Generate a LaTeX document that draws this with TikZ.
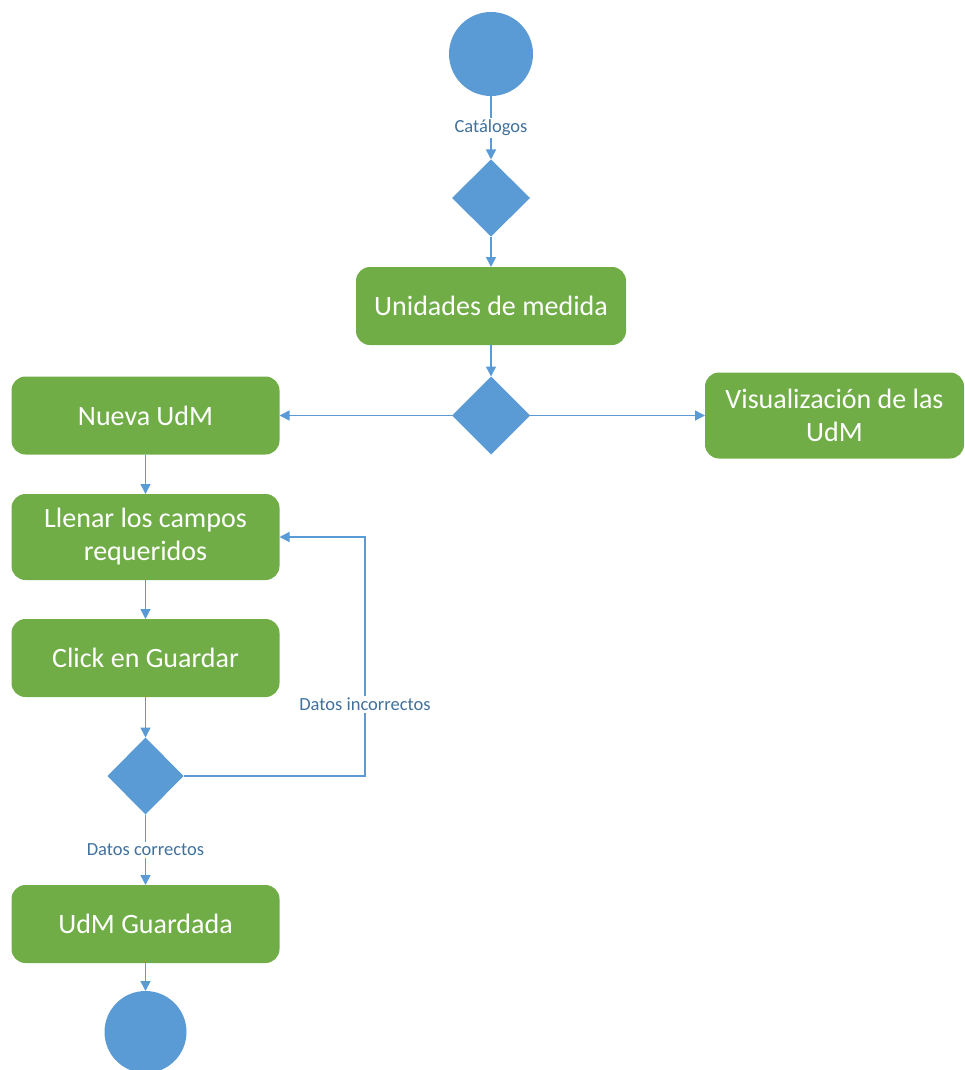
\documentclass[tikz,border=0pt]{standalone}
\usepackage{fontspec}
\setmainfont{Carlito}
\usetikzlibrary{shapes.geometric,arrows.meta}
\definecolor{ublue}{HTML}{5B9BD5}
\definecolor{ugreen}{HTML}{70AD47}
\definecolor{ulabel}{HTML}{41719C}
\tikzset{
  actbox/.style={rectangle, rounded corners=14pt, fill=ugreen, text=white, align=center,
    font=\fontsize{28}{33}\selectfont, inner sep=2pt, outer sep=0pt},
  decis/.style={diamond, fill=ublue, inner sep=0pt, outer sep=0pt},
  term/.style={circle, fill=ublue, inner sep=0pt, outer sep=0pt},
  arr/.style={draw=ublue, line width=1.5pt, -{Triangle[length=10pt,width=10pt]}},
  lbl/.style={fill=white, text=ulabel, font=\fontsize{18.5}{22}\selectfont, inner sep=2pt}
}
\begin{document}
\begin{tikzpicture}[x=1pt,y=-1pt]
\useasboundingbox (0,0) rectangle (965,1070);
\node[term, minimum size=84pt] (start) at (491,54) {};
\node[decis, minimum width=78pt, minimum height=77pt] (d1) at (491,198) {};
\node[actbox, minimum width=270pt, minimum height=78pt] (unid) at (491,306) {Unidades de medida};
\node[decis, minimum width=78pt, minimum height=78pt] (d2) at (491,415.5) {};
\node[actbox, minimum width=268pt, minimum height=78pt] (nueva) at (145.5,415.5) {Nueva UdM};
\node[actbox, minimum width=259pt, minimum height=86pt] (visual) at (834.5,415.5) {Visualización de las\\UdM};
\node[actbox, minimum width=268pt, minimum height=86pt] (llenar) at (145.5,537) {Llenar los campos\\requeridos};
\node[actbox, minimum width=268pt, minimum height=78pt] (click) at (145.5,658) {Click en Guardar};
\node[decis, minimum width=76pt, minimum height=77pt] (d3) at (145.5,776) {};
\node[actbox, minimum width=268pt, minimum height=78pt] (guard) at (145.5,924) {UdM Guardada};
\node[term, minimum size=82pt] (end) at (145.5,1032) {};
\coordinate (lp) at (365,537);

\draw[arr] (start) -- node[lbl] {Catálogos} (d1);
\draw[arr] (d1) -- (unid);
\draw[arr] (unid) -- (d2);
\draw[arr] (d2.west) -- (nueva.east);
\draw[arr] (d2.east) -- (visual.west);
\draw[arr] (nueva) -- (llenar);
\draw[arr] (llenar) -- (click);
\draw[arr] (click) -- (d3);
\draw[arr] (d3) -- node[lbl] {Datos correctos} (guard);
\draw[arr] (guard) -- (end);
\draw[arr] (d3.east) -| node[pos=0.65, lbl] {Datos incorrectos} (lp) -- (llenar.east);
\end{tikzpicture}
\end{document}
